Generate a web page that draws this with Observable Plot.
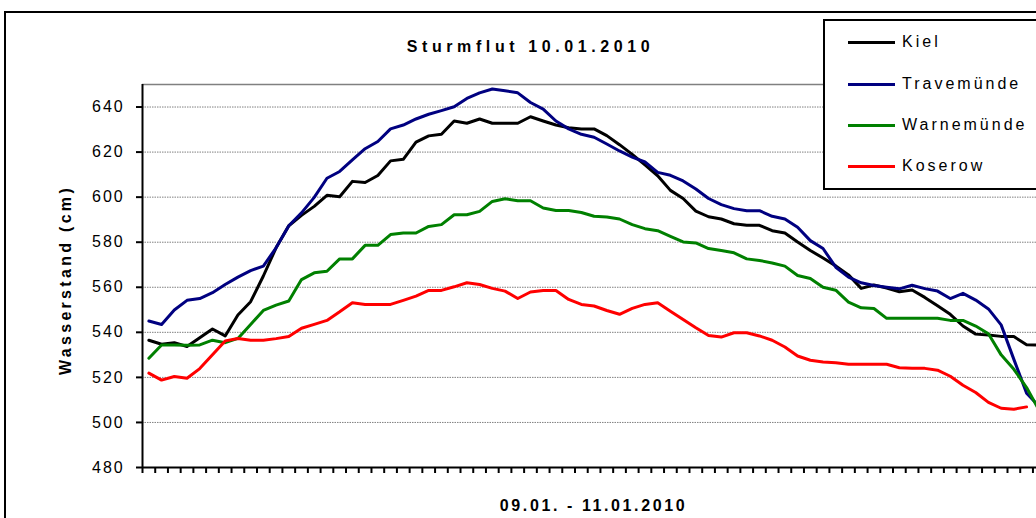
<!DOCTYPE html>
<html>
<head>
<meta charset="utf-8">
<script src="https://cdn.jsdelivr.net/npm/d3@7"></script>
<script src="https://cdn.jsdelivr.net/npm/@observablehq/plot@0.6"></script>
<style>
  html, body { margin: 0; padding: 0; background: #fff; overflow: hidden; }
  #wrap { position: relative; width: 1036px; height: 518px; overflow: hidden; font-family: "Liberation Sans", Arial, sans-serif; }
  #wrap svg { position: absolute; left: 0; top: 0; }
  #frame { position: absolute; left: 4px; top: 11px; width: 1200px; height: 700px; border: 2px solid #000; pointer-events: none; }
  #legend { position: absolute; left: 823px; top: 19px; width: 240px; height: 167px; border: 2px solid #000; background: #fff; }
  .entry { position: absolute; left: 23px; height: 20px; display: flex; align-items: center; font-size: 16px; letter-spacing: 3px; color: #000; }
  .entry span.sw { display: inline-block; width: 47px; height: 3px; margin-right: 7px; }
  g[aria-label="y-axis tick label"] text { letter-spacing: 1.9px; }
</style>
</head>
<body>
<div id="wrap"></div>
<script>
const title = "Sturmflut 10.01.2010";
const yLabel = "Wasserstand (cm)";
const xLabel = "09.01. - 11.01.2010";
const seriesNames = ["Kiel", "Travemünde", "Warnemünde", "Koserow"];
const seriesColors = ["#000000", "#000080", "#008000", "#ff0000"];
const yTicks = [480, 500, 520, 540, 560, 580, 600, 620, 640];

const kiel = [536.5,534.7,535.4,533.7,537.6,541.5,538.4,547.7,553.6,565,577.5,587.3,591.9,595.9,600.8,600.2,607,606.5,609.6,616.1,616.8,624.4,627.2,627.9,633.8,632.8,634.7,632.8,632.8,632.8,635.7,633.8,632,630.8,630.3,630.3,627.3,623.3,619,614.3,609.5,603,599.4,593.8,591.3,590.3,588.2,587.5,587.5,585.1,584.1,580.1,576.3,573,569.5,565.5,559.5,561,559.7,558,558.8,555.5,551.8,548,542.8,539.2,538.8,538.2,538.1,534.5,534.4];
const travemuende = [545,543.5,549.9,554.2,555,557.6,561.2,564.5,567.4,569.4,577.5,587.3,593,599.9,608.4,611.4,616.5,621.5,624.7,630.3,632,634.7,636.8,638.4,640.1,643.8,646.3,648,647.2,646.3,642,639.1,633.8,630.3,627.9,626.6,623.6,620.5,617.8,615.6,611,609.7,607.2,603.6,599.4,596.7,594.9,594,594,591.5,590.3,586.6,580.7,577.2,568.9,564.5,562,560.8,560,559.3,560.9,559.4,558.3,555,557.3,554.3,550.4,543.3,528,513,507];
const warnemuende = [528.5,534.4,534.4,534.3,534.4,536.5,535.4,537.3,543.5,549.7,552.1,553.9,563.4,566.4,567.1,572.6,572.6,578.6,578.6,583.4,584.1,584.1,587,587.8,592.2,592.2,593.7,598.1,599.3,598.4,598.4,595.2,594.1,594.1,593.2,591.5,591.2,590.3,587.8,586,585.1,582.6,580.1,579.7,577.2,576.3,575.3,572.6,571.9,570.8,569.4,565.2,563.9,560,558.7,553.4,550.9,550.6,546.2,546.2,546.2,546.2,546.2,545.3,545.3,542.8,539.4,530,523.6,515.5,505.2];
const koserow = [521.9,518.8,520.4,519.6,523.9,530,536.2,537.3,536.5,536.5,537.2,538.1,541.8,543.5,545.3,549.1,553.1,552.4,552.4,552.4,554.2,556.1,558.6,558.6,560.2,562,561.2,559.5,558.3,555,557.9,558.6,558.6,554.6,552.4,551.7,549.7,548,550.6,552.4,553.1,549.4,545.7,542,538.6,537.9,539.8,539.8,538.4,536.5,533.5,529.5,527.6,526.8,526.5,525.8,525.8,525.8,525.8,524.3,524,524,523.2,520.5,516.5,513.3,508.9,506.3,505.9,506.9];

const series = [kiel, travemuende, warnemuende, koserow];
const nCat = Math.max(...series.map(s => s.length));
const boundaries = d3.range(nCat).map(i => i - 0.5);
const gridValues = yTicks.filter(v => v > 480);

const lineMarks = series.map((vals, k) =>
  Plot.line(vals.map((v, i) => ({i, v})), {x: "i", y: "v", stroke: seriesColors[k], strokeWidth: 3, clip: true})
);

const chart = Plot.plot({
  width: 1036,
  height: 518,
  marginTop: 84,
  marginBottom: 51,
  marginLeft: 142,
  marginRight: 0,
  x: {domain: [-0.5, 69.78], axis: null},
  y: {domain: [480, 650], axis: null},
  style: {fontFamily: "'Liberation Sans', Arial, sans-serif", fontSize: "16px", color: "#000", background: "transparent", overflow: "visible"},
  marks: [
    Plot.ruleY(gridValues, {stroke: "#808080", strokeWidth: 1, strokeDasharray: "1.5,1"}),
    Plot.ruleY([650], {stroke: "#808080", strokeWidth: 1.5}),
    ...lineMarks,
    Plot.axisY({ticks: yTicks, tickSize: 6, tickPadding: 12, strokeWidth: 2, fontSize: 16, anchor: "left", label: null}),
    Plot.axisX({ticks: boundaries, tickSize: 6, strokeWidth: 2, tickFormat: () => "", anchor: "bottom", label: null}),
    Plot.ruleY([480], {stroke: "#000", strokeWidth: 2}),
    Plot.ruleX([-0.5], {stroke: "#000", strokeWidth: 2}),
    Plot.text([title], {frameAnchor: "top", textAnchor: "middle", lineAnchor: "middle", dx: -59, dy: -38, fontWeight: "bold", fontSize: 16}),
    Plot.text([yLabel], {frameAnchor: "left", textAnchor: "middle", lineAnchor: "middle", rotate: -90, dx: -77, dy: 4, fontWeight: "bold", fontSize: 16}),
    Plot.text([xLabel], {frameAnchor: "bottom", textAnchor: "middle", lineAnchor: "middle", dx: 4, dy: 38.5, fontWeight: "bold", fontSize: 16})
  ]
});

const spacing = new Map([[title, "4.6px"], [yLabel, "3.3px"], [xLabel, "2.6px"]]);
d3.select(chart).selectAll("text").each(function() {
  const s = spacing.get(this.textContent);
  if (s) this.style.letterSpacing = s;
});

const wrap = document.getElementById("wrap");
wrap.appendChild(chart);

const frame = document.createElement("div");
frame.id = "frame";
wrap.appendChild(frame);

const legend = document.createElement("div");
legend.id = "legend";
const entryTops = [11, 53, 94, 135];
seriesNames.forEach((name, k) => {
  const e = document.createElement("div");
  e.className = "entry";
  e.style.top = entryTops[k] + "px";
  const sw = document.createElement("span");
  sw.className = "sw";
  sw.style.background = seriesColors[k];
  e.appendChild(sw);
  e.appendChild(document.createTextNode(name));
  legend.appendChild(e);
});
wrap.appendChild(legend);
</script>
</body>
</html>
